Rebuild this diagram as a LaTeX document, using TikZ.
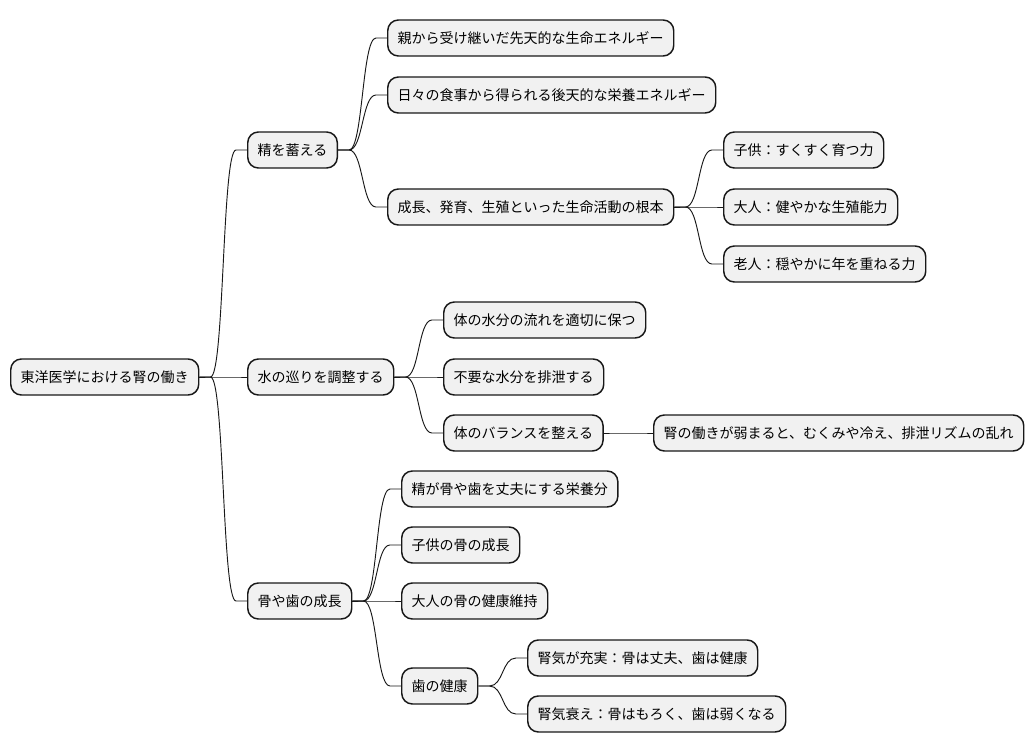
\documentclass[tikz,border=0pt]{standalone}
\usepackage{fontspec}
\setmainfont{Noto Sans CJK JP}
\usetikzlibrary{calc}

\definecolor{boxfill}{HTML}{F1F1F1}
\definecolor{boxline}{HTML}{181818}

\tikzset{
  topic/.style={draw=boxline,fill=boxfill,line width=1.1pt,rounded corners=8pt,
    anchor=west,minimum height=27pt,inner xsep=7.5pt,inner ysep=0pt,
    font=\fontsize{10.5}{12}\selectfont},
  link/.style={draw=boxline,line width=0.7pt}
}

\begin{document}
\begin{tikzpicture}[x=0.75pt,y=-0.75pt]
    \useasboundingbox (0,0) rectangle (1034,752);
    % --- root and first level ---
    \node[topic] (root) at (10,377) {東洋医学における腎の働き};
    \node[topic] (sei) at (247,150) {精を蓄える};
    \node[topic] (mizu) at (247,377) {水の巡りを調整する};
    \node[topic] (hone) at (247,601) {骨や歯の成長};
    % --- 精を蓄える ---
    \node[topic] (senten) at (387,38) {親から受け継いだ先天的な生命エネルギー};
    \node[topic] (kouten) at (387,95) {日々の食事から得られる後天的な栄養エネルギー};
    \node[topic] (konpon) at (387,207) {成長、発育、生殖といった生命活動の根本};
    \node[topic] (kodomo) at (723,150) {子供：すくすく育つ力};
    \node[topic] (otona) at (723,207) {大人：健やかな生殖能力};
    \node[topic] (roujin) at (723,264) {老人：穏やかに年を重ねる力};
    % --- 水の巡りを調整する ---
    \node[topic] (nagare) at (443,320) {体の水分の流れを適切に保つ};
    \node[topic] (haisetsu) at (443,377) {不要な水分を排泄する};
    \node[topic] (balance) at (443,433) {体のバランスを整える};
    \node[topic] (yowaru) at (653,433) {腎の働きが弱まると、むくみや冷え、排泄リズムの乱れ};
    % --- 骨や歯の成長 ---
    \node[topic] (eiyou) at (401,489) {精が骨や歯を丈夫にする栄養分};
    \node[topic] (seichou) at (401,545) {子供の骨の成長};
    \node[topic] (iji) at (401,601) {大人の骨の健康維持};
    \node[topic] (ha) at (401,686) {歯の健康};
    \node[topic] (juujitsu) at (527,658) {腎気が充実：骨は丈夫、歯は健康};
    \node[topic] (otoroe) at (527,714) {腎気衰え：骨はもろく、歯は弱くなる};
    % --- branches ---
    \foreach \p/\c in {root/sei,root/mizu,root/hone,
        sei/senten,sei/kouten,sei/konpon,
        konpon/kodomo,konpon/otona,konpon/roujin,
        mizu/nagare,mizu/haisetsu,mizu/balance,balance/yowaru,
        hone/eiyou,hone/seichou,hone/iji,hone/ha,
        ha/juujitsu,ha/otoroe}
      \draw[link] (\p.east) -- ++(11,0) .. controls +(14,0) and +(-14,0)
        .. ($(\c.west)+(-11,0)$) -- (\c.west);
  \end{tikzpicture}
\end{document}
